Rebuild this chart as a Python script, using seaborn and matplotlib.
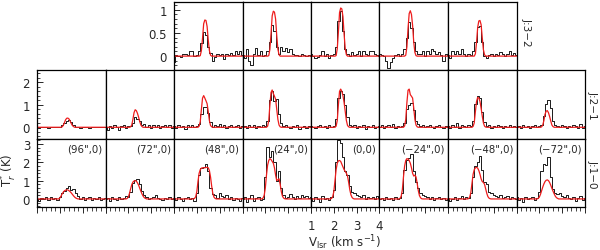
import numpy as np
import pandas as pd
import matplotlib
matplotlib.use("Agg")
import matplotlib.pyplot as plt
import seaborn as sns
from matplotlib.ticker import MultipleLocator

sns.set_style("ticks")
plt.rcParams['font.family'] = ['DejaVu Sans']

# ---------------- data ----------------
v_obs = [1.0, 1.1, 1.2, 1.3, 1.4, 1.5, 1.6, 1.7, 1.8, 1.9, 2.0, 2.1, 2.2, 2.3, 2.4, 2.5,
         2.6, 2.7, 2.8, 2.9, 3.0, 3.1, 3.2, 3.3, 3.4, 3.5, 3.6, 3.7, 3.8, 3.9, 4.0]
v_mod = [1.0, 1.80, 1.85, 1.90, 1.95, 2.00, 2.05, 2.10, 2.15, 2.20, 2.25, 2.30, 2.35, 2.40,
         2.45, 2.50, 2.55, 2.60, 2.65, 2.70, 2.75, 2.80, 2.85, 2.90, 2.95, 3.00, 3.05, 3.10, 4.0]

offsets = ['(96",0)', '(72",0)', '(48",0)', '(24",0)', '(0,0)',
           '(\u221224",0)', '(\u221248",0)', '(\u221272",0)']
row_labels = ['J:3\u22122', 'J:2\u22121', 'J:1\u22120']

# J:3-2 (columns 2..6)
obs_32 = [
    [-0.12, 0.03, 0.0, -0.02, 0.05, 0.04, 0.02, 0.1, 0.1, 0.0, 0.02, 0.12, 0.28, 0.52, 0.45, 0.2,
     0.06, -0.1, -0.02, 0.05, 0.03, 0.05, -0.06, 0.04, 0.02, 0.06, 0.03, 0.1, 0.05, 0.1, 0.02],
    [0.02, -0.05, 0.15, -0.1, -0.2, 0.05, 0.18, 0.02, 0.1, 0.0, 0.02, 0.1, 0.3, 0.68, 0.55, 0.2,
     0.05, 0.2, 0.1, 0.18, 0.08, 0.15, 0.05, 0.02, 0.03, 0.0, 0.04, 0.02, 0.0, 0.03, 0.0],
    [0.05, 0.0, -0.05, -0.02, 0.03, 0.1, 0.0, 0.05, -0.03, 0.02, 0.05, 0.2, 0.75, 0.98, 0.55, 0.15,
     0.05, 0.0, 0.08, 0.02, 0.05, 0.1, 0.0, 0.12, 0.05, 0.02, 0.1, 0.12, 0.05, 0.03, 0.0],
    [0.05, 0.02, 0.0, -0.1, -0.25, -0.12, -0.05, 0.03, 0.05, 0.0, 0.05, 0.15, 0.4, 0.74, 0.6, 0.3,
     0.1, 0.05, 0.05, 0.1, 0.0, 0.12, 0.05, 0.15, 0.1, 0.05, 0.08, 0.02, -0.1, 0.05, 0.02],
    [0.03, -0.05, 0.1, 0.05, 0.1, 0.05, 0.15, 0.05, 0.0, 0.05, 0.02, 0.1, 0.3, 0.62, 0.66, 0.3,
     0.0, -0.05, 0.02, 0.05, 0.0, 0.05, 0.03, 0.08, 0.05, 0.0, 0.05, 0.1, 0.02, 0.06, 0.03],
]
mod_32 = [
    [0, 0, 0, 0, 0, 0, 0, 0.01, 0.12, 0.39, 0.70, 0.78, 0.77, 0.64, 0.35, 0.12, 0.02, 0, 0, 0, 0, 0, 0, 0, 0, 0, 0],
    [0, 0, 0, 0, 0, 0, 0, 0.01, 0.15, 0.49, 0.87, 0.97, 0.95, 0.80, 0.44, 0.15, 0.03, 0, 0, 0, 0, 0, 0, 0, 0, 0, 0],
    [0, 0, 0, 0, 0, 0, 0.01, 0.16, 0.52, 0.94, 1.04, 1.02, 0.85, 0.47, 0.16, 0.03, 0, 0, 0, 0, 0, 0, 0, 0, 0, 0, 0],
    [0, 0, 0, 0, 0, 0, 0, 0.02, 0.20, 0.60, 0.92, 0.98, 0.90, 0.66, 0.30, 0.08, 0.01, 0, 0, 0, 0, 0, 0, 0, 0, 0, 0],
    [0, 0, 0, 0, 0, 0, 0, 0, 0.05, 0.30, 0.62, 0.76, 0.77, 0.68, 0.40, 0.14, 0.03, 0, 0, 0, 0, 0, 0, 0, 0, 0, 0],
]

# J:2-1 (columns 0..7)
obs_21 = [
    [0.02, -0.03, 0.0, 0.03, 0.0, -0.02, 0.02, 0.0, 0.03, 0.0, 0.02, 0.08, 0.2, 0.3, 0.32, 0.22,
     0.1, 0.03, 0.0, -0.02, 0.02, 0.0, 0.0, -0.03, 0.02, 0.0, 0.0, 0.0, 0.02, 0.0, 0.0],
    [0.0, -0.1, 0.05, -0.05, 0.08, 0.0, -0.1, 0.05, 0.1, -0.05, 0.05, 0.05, 0.2, 0.47, 0.38, 0.3,
     0.1, 0.15, 0.0, 0.08, -0.05, 0.1, 0.02, 0.1, -0.05, 0.05, 0.1, 0.0, 0.08, -0.05, 0.05],
    [0.05, -0.05, 0.1, 0.0, 0.05, -0.08, 0.08, 0.02, 0.1, 0.0, 0.05, 0.15, 0.6, 0.9, 0.92, 0.65,
     0.25, 0.0, 0.1, 0.05, 0.15, 0.0, 0.08, -0.05, 0.05, 0.1, 0.0, 0.05, 0.1, -0.02, 0.05],
    [0.0, 0.05, -0.05, 0.08, 0.0, 0.1, -0.05, 0.05, 0.0, 0.08, 0.05, 0.3, 1.2, 1.6, 1.15, 1.25,
     0.6, 0.2, 0.05, 0.1, 0.0, -0.05, 0.05, 0.0, 0.08, -0.08, 0.03, 0.05, -0.05, 0.05, 0.0],
    [0.05, 0.0, -0.05, 0.05, 0.1, 0.0, 0.05, -0.05, 0.08, 0.0, 0.05, 0.35, 1.3, 1.6, 1.5, 1.0,
     0.45, 0.1, 0.05, 0.1, -0.05, 0.05, 0.0, 0.1, -0.08, 0.05, 0.0, 0.08, -0.05, 0.0, 0.05],
    [0.0, 0.1, -0.05, 0.05, 0.1, 0.0, 0.15, -0.05, 0.05, 0.0, 0.05, 0.2, 0.8, 1.0, 1.07, 0.75,
     0.3, 0.15, 0.05, 0.1, 0.0, 0.05, 0.1, 0.0, -0.05, 0.05, 0.08, 0.0, -0.05, 0.05, 0.0],
    [0.05, -0.05, 0.1, 0.0, 0.2, -0.05, 0.1, 0.05, 0.0, 0.1, 0.05, 0.3, 1.05, 1.38, 1.3, 0.7,
     0.25, 0.05, 0.1, -0.05, 0.05, 0.0, 0.1, 0.05, -0.05, 0.05, 0.0, 0.08, 0.0, 0.05, 0.0],
    [0.0, 0.05, -0.05, 0.1, 0.0, 0.05, -0.05, 0.05, 0.1, 0.0, 0.05, 0.1, 0.5, 1.05, 1.23, 0.85,
     0.3, 0.1, 0.05, 0.0, 0.1, 0.05, -0.05, 0.05, 0.0, 0.1, 0.05, -0.05, 0.15, -0.05, 0.05],
]
mod_21 = [
    [0, 0, 0, 0, 0, 0, 0.02, 0.08, 0.20, 0.33, 0.40, 0.41, 0.37, 0.28, 0.17, 0.08, 0.03, 0, 0, 0, 0, 0, 0, 0, 0, 0, 0],
    [0, 0, 0, 0, 0, 0, 0.02, 0.10, 0.35, 0.65, 0.78, 0.74, 0.62, 0.45, 0.25, 0.10, 0.03, 0, 0, 0, 0, 0, 0, 0, 0, 0, 0],
    [0, 0, 0, 0, 0, 0, 0.05, 0.25, 0.80, 1.30, 1.41, 1.30, 1.18, 1.05, 0.70, 0.30, 0.08, 0.02, 0, 0, 0, 0, 0, 0, 0, 0, 0],
    [0, 0, 0, 0, 0, 0, 0.05, 0.30, 1.00, 1.55, 1.66, 1.50, 1.38, 1.25, 0.80, 0.35, 0.10, 0.02, 0, 0, 0, 0, 0, 0, 0, 0, 0],
    [0, 0, 0, 0, 0, 0, 0.05, 0.30, 1.00, 1.60, 1.70, 1.60, 1.40, 1.10, 0.70, 0.30, 0.08, 0.02, 0, 0, 0, 0, 0, 0, 0, 0, 0],
    [0, 0, 0, 0, 0, 0, 0.06, 0.35, 1.10, 1.65, 1.70, 1.45, 1.38, 1.30, 0.85, 0.35, 0.10, 0.02, 0, 0, 0, 0, 0, 0, 0, 0, 0],
    [0, 0, 0, 0, 0, 0, 0.04, 0.20, 0.70, 1.15, 1.33, 1.30, 1.15, 0.85, 0.50, 0.20, 0.05, 0.01, 0, 0, 0, 0, 0, 0, 0, 0, 0],
    [0, 0, 0, 0, 0, 0, 0.02, 0.10, 0.30, 0.58, 0.72, 0.74, 0.65, 0.48, 0.28, 0.10, 0.03, 0, 0, 0, 0, 0, 0, 0, 0, 0, 0],
]

# J:1-0 (columns 0..7)
obs_10 = [
    [0.0, -0.1, 0.05, 0.0, 0.08, -0.05, 0.1, 0.0, 0.05, -0.05, 0.1, 0.3, 0.45, 0.6, 0.72, 0.5,
     0.55, 0.3, 0.15, 0.0, 0.1, -0.05, 0.05, 0.1, -0.08, 0.05, 0.0, 0.08, -0.05, 0.0, 0.05],
    [0.0, 0.05, -0.1, 0.1, 0.0, -0.05, 0.1, 0.0, 0.05, 0.15, 0.1, 0.4, 0.85, 1.05, 1.1, 0.8,
     0.45, 0.2, 0.1, 0.0, 0.05, 0.1, 0.2, 0.05, 0.0, -0.05, 0.05, 0.0, 0.08, 0.0, 0.05],
    [0.05, -0.05, 0.1, 0.0, -0.1, 0.05, 0.1, 0.0, 0.05, -0.1, 0.3, 1.3, 1.7, 1.75, 1.9, 1.5,
     0.6, 0.25, 0.2, 0.05, 0.3, 0.15, 0.1, 0.2, 0.0, 0.1, -0.05, 0.05, 0.0, -0.1, 0.05],
    [0.0, 0.1, -0.15, 0.05, 0.2, -0.1, 0.05, 0.1, -0.05, 0.0, 1.2, 2.85, 2.3, 2.6, 2.0, 1.0,
     1.55, 0.6, 0.2, 0.05, 0.1, 0.25, 0.1, 0.0, 0.15, 0.05, 0.2, 0.1, 0.15, 0.05, 0.1],
    [0.05, -0.1, 0.1, 0.0, -0.15, 0.15, 0.0, 0.05, -0.05, 0.1, 0.5, 2.0, 3.2, 3.05, 2.3, 1.5,
     1.3, 0.7, 0.4, 0.3, 0.2, 0.15, 0.1, 0.2, 0.0, 0.1, 0.05, 0.1, 0.0, 0.15, 0.05],
    [0.0, 0.05, -0.05, 0.1, 0.0, 0.05, -0.05, 0.1, 0.0, 0.05, 0.3, 1.6, 2.1, 2.25, 2.46, 1.5,
     0.9, 0.6, 0.35, 0.2, 0.15, 0.1, 0.0, 0.1, -0.05, 0.05, 0.1, 0.0, 0.05, -0.05, 0.0],
    [0.05, -0.1, 0.0, 0.1, -0.05, 0.05, 0.15, 0.0, 0.1, 0.05, 0.3, 1.2, 1.8, 2.0, 2.33, 1.6,
     0.9, 0.8, 0.4, 0.3, 0.2, 0.15, 0.1, 0.2, 0.05, 0.1, 0.15, 0.0, 0.1, 0.05, 0.0],
    [0.1, -0.05, 0.05, -0.15, 0.1, 0.0, 0.05, 0.1, -0.05, 0.05, 0.4, 1.5, 1.9, 1.85, 2.28, 1.2,
     0.55, 0.35, 0.25, 0.3, 0.15, 0.1, 0.2, 0.05, 0.0, 0.1, -0.1, 0.05, 0.15, -0.05, 0.05],
]
mod_10 = [
    [0, 0, 0, 0, 0.05, 0.15, 0.27, 0.37, 0.44, 0.48, 0.50, 0.49, 0.45, 0.40, 0.33, 0.25, 0.17, 0.10, 0.05, 0.02, 0, 0, 0, 0, 0, 0, 0],
    [0, 0, 0, 0.03, 0.10, 0.30, 0.55, 0.78, 0.92, 0.98, 1.00, 0.97, 0.88, 0.75, 0.58, 0.42, 0.27, 0.15, 0.07, 0.03, 0, 0, 0, 0, 0, 0, 0],
    [0, 0, 0.03, 0.12, 0.40, 0.95, 1.40, 1.60, 1.68, 1.70, 1.70, 1.70, 1.72, 1.73, 1.70, 1.55, 1.20, 0.70, 0.30, 0.10, 0.03, 0, 0, 0, 0, 0, 0],
    [0, 0, 0.05, 0.20, 0.60, 1.30, 1.85, 2.10, 2.20, 2.15, 2.05, 1.95, 1.70, 1.30, 1.00, 1.05, 1.10, 0.80, 0.40, 0.15, 0.05, 0.01, 0, 0, 0, 0, 0],
    [0, 0, 0.03, 0.12, 0.40, 1.00, 1.60, 1.95, 2.08, 2.10, 2.05, 1.90, 1.75, 1.60, 1.50, 1.40, 1.25, 0.90, 0.50, 0.22, 0.08, 0.02, 0, 0, 0, 0, 0],
    [0, 0, 0.03, 0.15, 0.50, 1.20, 1.80, 2.10, 2.20, 2.18, 2.10, 1.95, 1.70, 1.40, 1.25, 1.30, 1.20, 0.85, 0.45, 0.18, 0.06, 0.01, 0, 0, 0, 0, 0],
    [0, 0, 0.02, 0.10, 0.35, 0.85, 1.35, 1.60, 1.70, 1.73, 1.68, 1.55, 1.35, 1.10, 0.95, 0.90, 0.80, 0.55, 0.30, 0.12, 0.04, 0.01, 0, 0, 0, 0, 0],
    [0, 0, 0, 0.03, 0.10, 0.25, 0.45, 0.65, 0.82, 0.95, 1.02, 1.04, 1.00, 0.90, 0.75, 0.58, 0.42, 0.28, 0.15, 0.07, 0.03, 0, 0, 0, 0, 0, 0],
]

rows = [
    dict(cols=[2, 3, 4, 5, 6], obs=obs_32, mod=mod_32, ylim=(-0.30, 1.18),
         major=[0, 0.5, 1], labels=['0', '0.5', '1'], minor=0.1, top=2.5),
    dict(cols=list(range(8)), obs=obs_21, mod=mod_21, ylim=(-0.50, 2.55),
         major=[0, 1, 2], labels=['0', '1', '2'], minor=0.2, top=71.0),
    dict(cols=list(range(8)), obs=obs_10, mod=mod_10, ylim=(-0.44, 3.30),
         major=[0, 1, 2, 3], labels=['0', '1', '2', '3'], minor=0.2, top=139.5),
]

# ---------------- figure ----------------
W, H = 600, 251
fig = plt.figure(figsize=(W / 100, H / 100), dpi=100)
x0, cw, rh = 37.0, 68.5, 68.5

for r, row in enumerate(rows):
    for i, c in enumerate(row['cols']):
        left = (x0 + cw * c) / W
        bottom = 1 - (row['top'] + rh) / H
        ax = fig.add_axes([left, bottom, cw / W, rh / H])
        ob = row['obs'][i]
        md = [0.0] + list(row['mod'][i]) + [0.0]
        sns.lineplot(x=v_obs, y=ob, ax=ax, color='#1a1a1a', lw=0.7,
                     drawstyle='steps-mid', estimator=None)
        sns.lineplot(x=v_mod, y=md, ax=ax, color='#ee1c1c', lw=0.9, estimator=None)
        ax.set_xlim(1, 4)
        ax.set_ylim(*row['ylim'])
        ax.set_xlabel('')
        ax.set_ylabel('')
        for s in ax.spines.values():
            s.set_linewidth(0.9)
            s.set_color('black')
        # y ticks
        if i == 0:
            ax.set_yticks(row['major'], row['labels'])
            ax.yaxis.set_minor_locator(MultipleLocator(row['minor']))
            ax.tick_params(axis='y', which='major', direction='in', length=4,
                           width=0.7, labelsize=8.5, pad=5)
            ax.tick_params(axis='y', which='minor', direction='in', length=2, width=0.6)
        else:
            ax.set_yticks([])
        # x ticks
        if r == 2:
            ax.set_xticks([1, 2, 3, 4])
            ax.xaxis.set_minor_locator(MultipleLocator(0.2))
            ax.tick_params(axis='x', which='major', direction='out', length=4,
                           width=0.7, labelsize=8.5, pad=4.5)
            ax.tick_params(axis='x', which='minor', direction='out', length=3, width=0.6)
            if c == 4:
                ax.set_xticklabels(['1', '2', '3', '4'])
            else:
                ax.set_xticklabels([])
            ax.text(1 - 3 / cw, 1 - 9.5 / rh, offsets[c], transform=ax.transAxes,
                    ha='right', va='center', fontsize=7.3)
        else:
            ax.set_xticks([])

fig.text(527 / W, 1 - 32 / H, row_labels[0], rotation=270, ha='center', va='center', fontsize=7.5)
fig.text(593 / W, 1 - 105 / H, row_labels[1], rotation=270, ha='center', va='center', fontsize=7.5)
fig.text(593 / W, 1 - 174 / H, row_labels[2], rotation=270, ha='center', va='center', fontsize=7.5)
fig.text(9 / W, 1 - 170 / H, r'T$^{*}_{r}$ (K)', rotation=90, ha='center', va='center', fontsize=8.5)
fig.text(345 / W, 1 - 243 / H, r'V$_{\rm lsr}$ (km s$^{-1}$)', ha='center', va='center', fontsize=8.5)

fig.savefig('out.png', dpi=100)
